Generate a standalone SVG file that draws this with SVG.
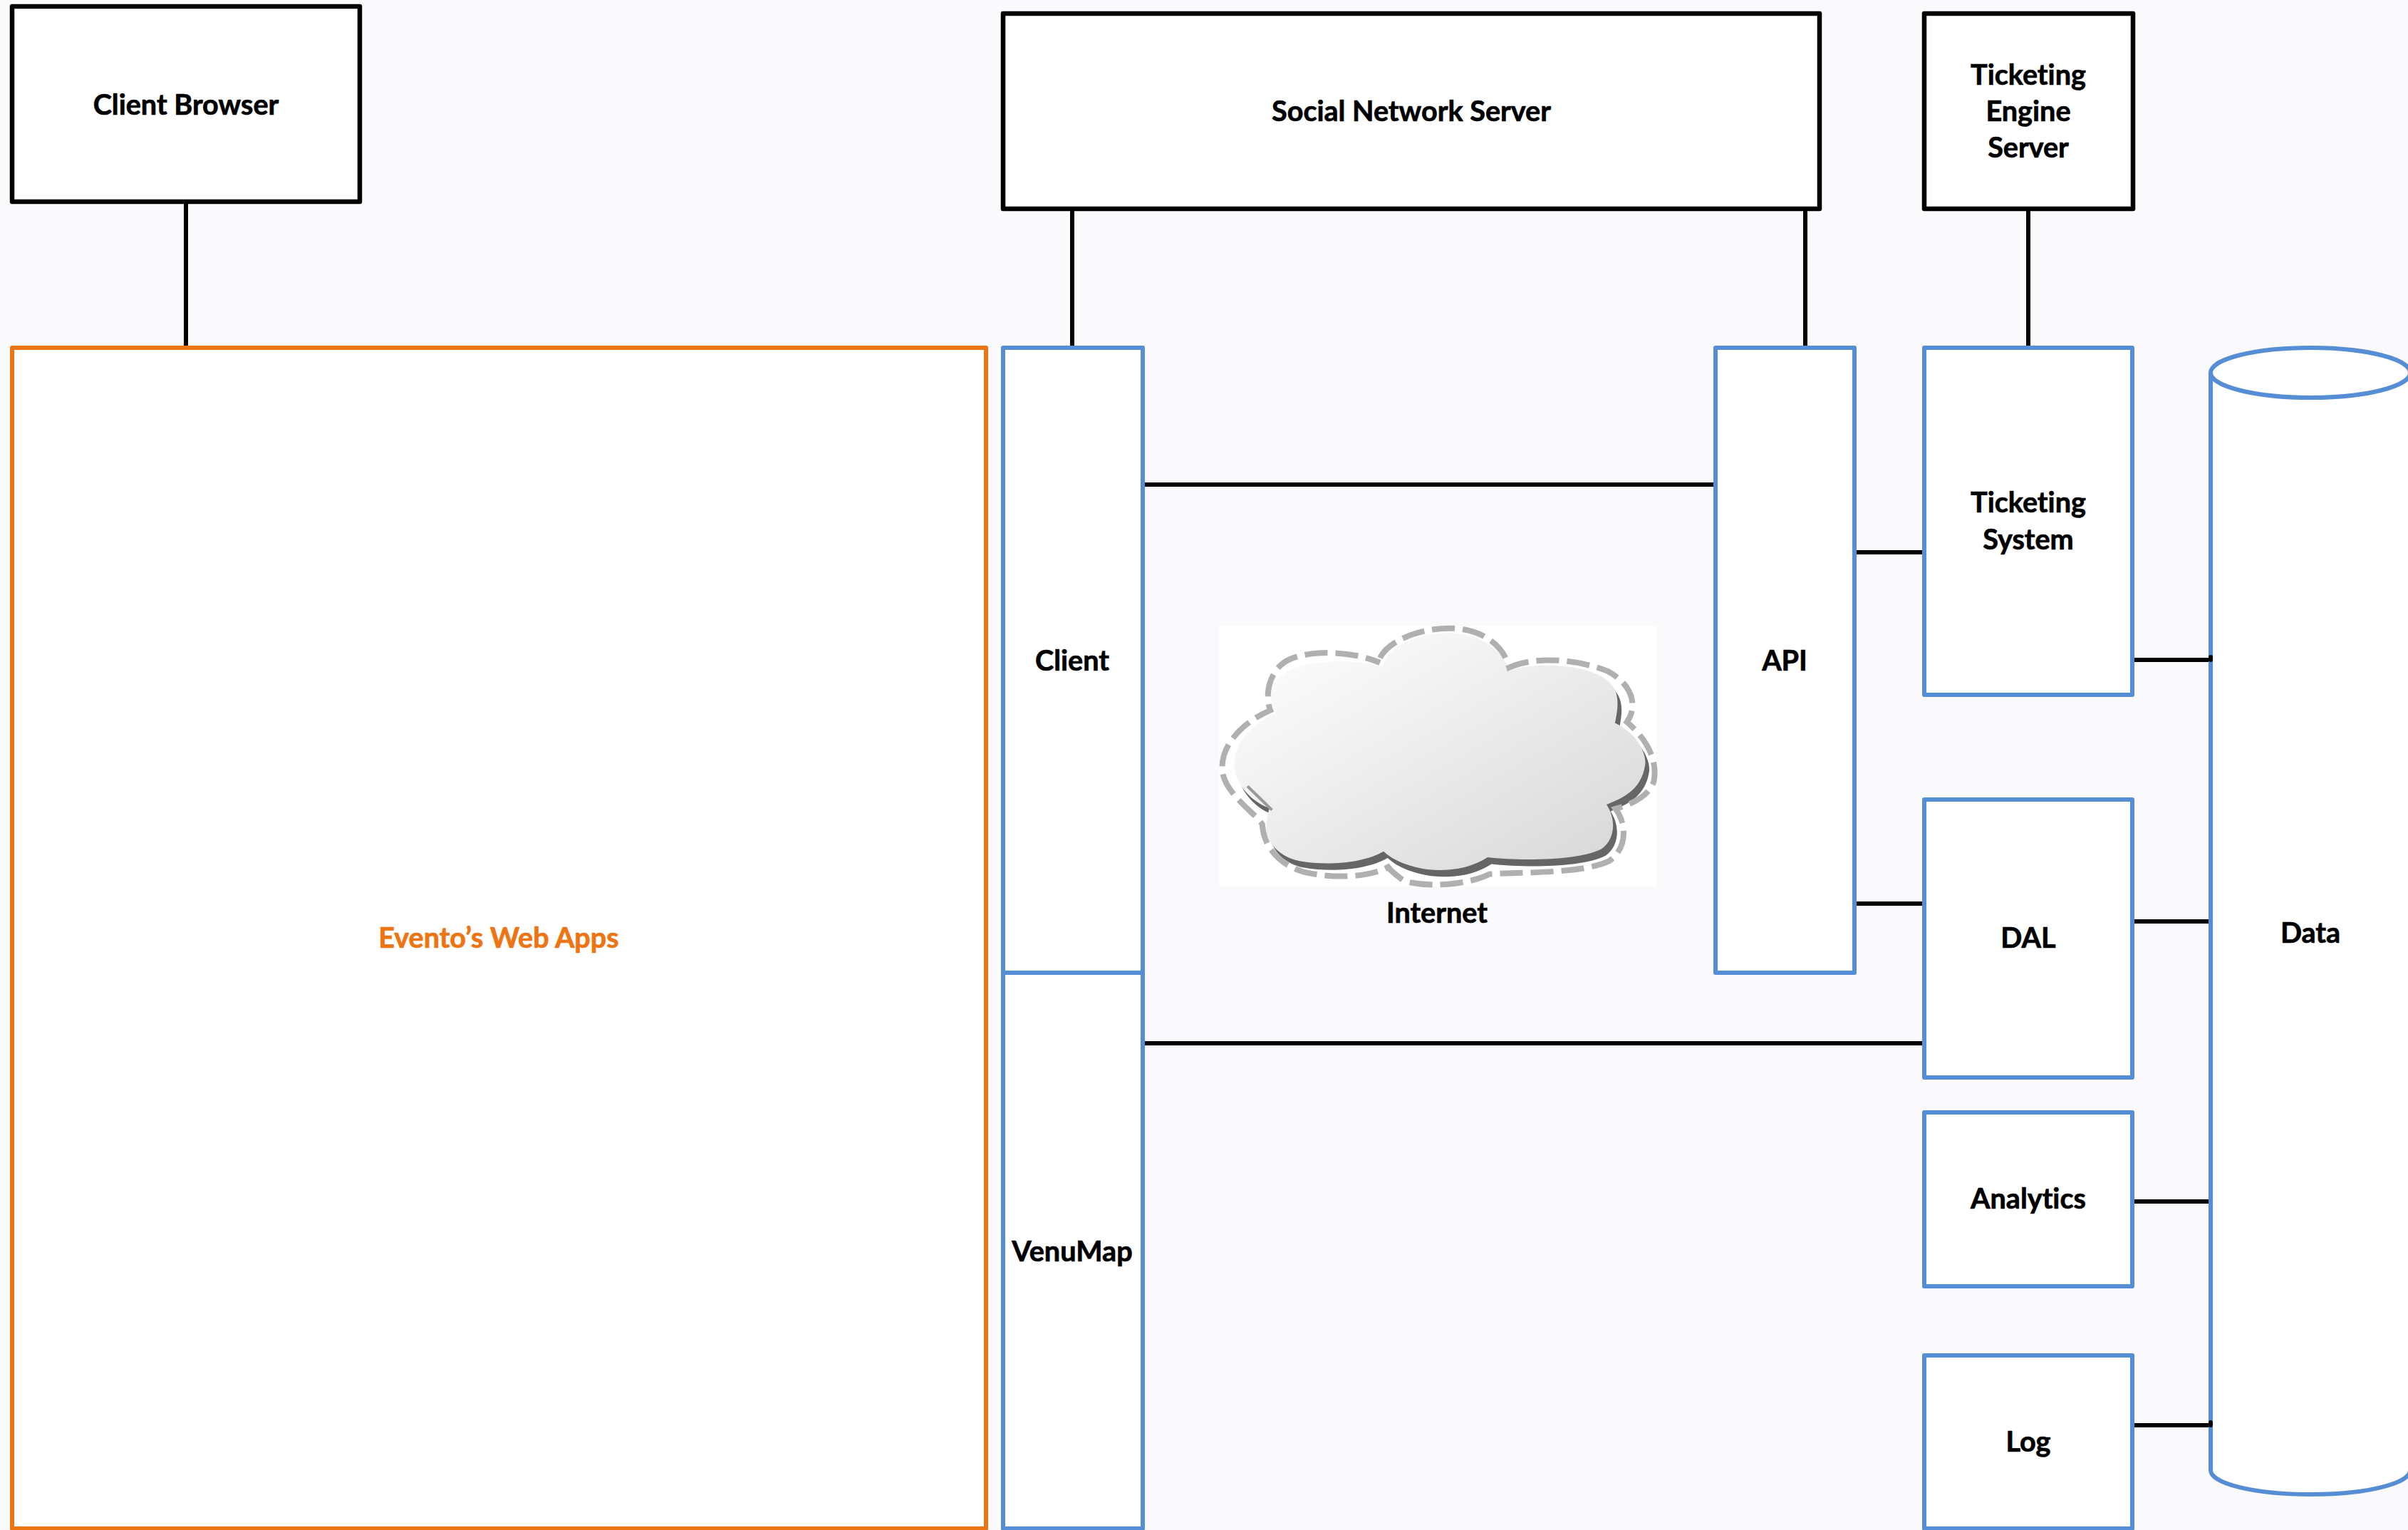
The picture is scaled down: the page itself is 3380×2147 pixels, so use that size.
<svg xmlns="http://www.w3.org/2000/svg" width="3380" height="2147" viewBox="0 0 3380 2147">
<style>
.k{fill:#fff;stroke:#000;stroke-width:6.5;stroke-linejoin:round}
.b{fill:#fff;stroke:#558ed5;stroke-width:6;stroke-linejoin:round}
.o{fill:#fff;stroke:#ed7413;stroke-width:6;stroke-linejoin:round}
.c{fill:none;stroke:#000;stroke-width:6;stroke-linecap:round}
text{font-family:Lato,"Liberation Sans",sans-serif;font-weight:700;font-size:39.6px;text-anchor:middle;fill:#000;stroke:#000;stroke-width:.7px;font-variant-ligatures:none}
</style>
<defs>
<linearGradient id="cg" x1="0" y1="0" x2="1" y2="1"><stop offset="0" stop-color="#ffffff"/><stop offset=".3" stop-color="#f4f4f4"/><stop offset="1" stop-color="#d6d6d6"/></linearGradient>
<path id="cl" d="M635,290C660,190 760,150 830,150C920,150 990,210 1015,305C1100,270 1240,280 1300,340C1340,380 1345,430 1330,525C1400,570 1425,660 1420,700C1410,790 1370,830 1305,865C1335,930 1330,1010 1290,1050C1220,1100 1050,1100 950,1085C900,1130 840,1145 770,1135C720,1125 670,1100 640,1060C580,1110 470,1120 390,1100C320,1080 290,1010 290,960C290,930 295,900 300,880C240,850 195,770 195,700C195,600 250,530 320,480C290,420 300,340 370,300C440,260 560,260 635,290Z"/>
</defs>
<rect width="3380" height="2147" fill="#fafafc"/>
<g id="connectors">
<path class="c" d="M261,283V488M1505,293V488M2534,293V488M2847,293V488M1604,680H2408M1604,1464H2701M2603,775H2701M2603,1268H2701M2993,926H3103M2993,1293H3103M2993,1686H3103M2993,2000H3103"/>
</g>
<g id="client-browser"><rect class="k" x="17" y="9" width="488" height="274"/><text x="261" y="160.5">Client Browser</text></g>
<g id="social-network-server"><rect class="k" x="1408" y="19" width="1146" height="274"/><text x="1981" y="170">Social Network Server</text></g>
<g id="ticketing-engine-server"><rect class="k" x="2701" y="19" width="293" height="274"/><text x="2847" y="119">Ticketing</text><text x="2847" y="170">Engine</text><text x="2847" y="221">Server</text></g>
<g id="eventos-web-apps"><rect class="o" x="17" y="488" width="1367" height="1657"/><text x="700" y="1330" style="fill:#ed7413;stroke:#ed7413">Evento’s Web Apps</text></g>
<g id="client"><rect class="b" x="1408" y="488" width="196" height="877"/><text x="1505" y="940.5">Client</text></g>
<g id="venumap"><rect class="b" x="1408" y="1365" width="196" height="780"/><text x="1505" y="1770">VenuMap</text></g>
<g id="api"><rect class="b" x="2408" y="488" width="195" height="877"/><text x="2505" y="940.5">API</text></g>
<g id="ticketing-system"><rect class="b" x="2701" y="488" width="292" height="487"/><text x="2847" y="719">Ticketing</text><text x="2847" y="771">System</text></g>
<g id="dal"><rect class="b" x="2701" y="1122" width="292" height="390"/><text x="2847" y="1330">DAL</text></g>
<g id="analytics"><rect class="b" x="2701" y="1561" width="292" height="244"/><text x="2847" y="1696">Analytics</text></g>
<g id="log"><rect class="b" x="2701" y="1902" width="292" height="243"/><text x="2847" y="2037">Log</text></g>
<g id="data">
<path class="b" d="M3103,523V2063C3103,2082 3165,2097 3243,2097C3321,2097 3383,2082 3383,2063V523"/>
<ellipse class="b" cx="3243" cy="523" rx="140" ry="35"/>
<path class="c" d="M3103,1996V2000M3103,922V926"/>
<text x="3243" y="1323">Data</text>
</g>
<g id="internet">
<rect x="1711" y="878" width="614" height="366" fill="#fff"/>
<g transform="translate(1650,840) scale(.4592,.3333)">
<g transform="translate(800,650) scale(1.025,1.01) translate(-800,-650)">
<use href="#cl" fill="#666" transform="translate(12,28)"/>
<use href="#cl" fill="url(#cg)"/>
</g>
<path d="M220,790L295,890" fill="none" stroke="#999" stroke-width="4" vector-effect="non-scaling-stroke"/>
<path d="M625,250C650,180 740,125 840,125C920,125 1000,180 1020,290C1100,240 1230,255 1320,305C1385,350 1420,440 1380,520C1440,590 1475,680 1462,770C1450,820 1410,860 1345,885C1385,960 1375,1060 1325,1105C1240,1160 1060,1150 960,1160C900,1200 790,1220 700,1190C680,1170 660,1150 650,1130C590,1175 480,1180 390,1150C320,1120 270,1050 265,950C245,905 160,830 145,740C130,640 190,530 290,470C270,400 290,290 350,255C420,215 540,220 625,270" fill="none" stroke="#b0b0b0" stroke-width="8" stroke-dasharray="32 11" vector-effect="non-scaling-stroke"/>
</g>
<text x="2017" y="1295">Internet</text>
</g>
</svg>
